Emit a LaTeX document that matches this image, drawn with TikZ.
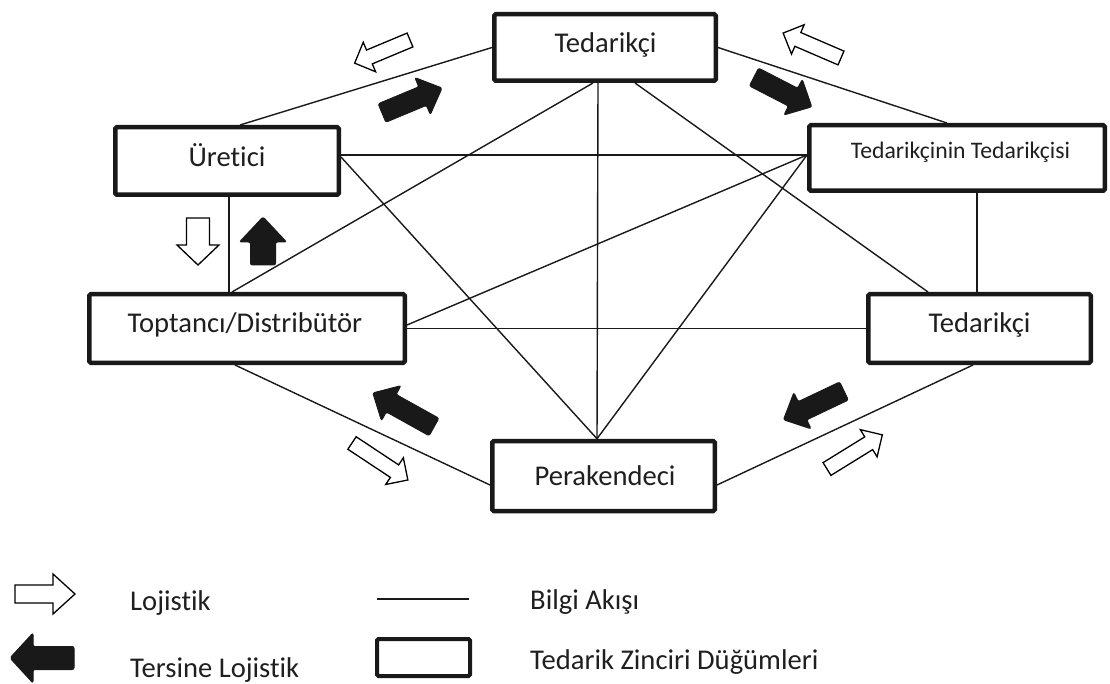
\documentclass[tikz,border=0pt]{standalone}
\usepackage{fontspec}
\setmainfont{Carlito}[Ligatures={NoCommon,NoRequired,NoContextual}]
\usetikzlibrary{calc}
\pgfdeclarelayer{bg}
\pgfsetlayers{bg,main}
\newcommand\blockarrow[7]{%
  \draw[#1,shift={#2},rotate=#3] (0,-#5) -- ({#4-#7},-#5) -- ({#4-#7},-#6) -- (#4,0) -- ({#4-#7},#6) -- ({#4-#7},#5) -- (0,#5) -- cycle;}
\begin{document}
\begin{tikzpicture}[x=1pt,y=-1pt,
  nodebox/.style={draw=black!90,line width=4.5pt,rounded corners=1.5pt,inner sep=0pt,fill=white},
  lbl/.style={font=\fontsize{28.6}{34}\selectfont,inner sep=0pt,anchor=base,text=black!88},
  lblsmall/.style={font=\fontsize{23.7}{28}\selectfont,inner sep=0pt,anchor=base,text=black!88},
  info/.style={draw=black!90,line width=1.4pt},
  warrow/.style={draw=black,fill=white,line width=1.3pt,line join=miter},
  barrow/.style={draw=black!90,fill=black!90,line width=1pt,rounded corners=2pt}]
\useasboundingbox (0,0) rectangle (1110,684);
% nodes (boxes)
\node[nodebox,minimum width=221.5pt,minimum height=66.5pt] (top) at (605,47.5) {};
\node[nodebox,minimum width=223.5pt,minimum height=67.5pt] (ur) at (227,161) {};
\node[nodebox,minimum width=295.5pt,minimum height=65.5pt] (tt) at (957,158) {};
\node[nodebox,minimum width=315.5pt,minimum height=68.5pt] (tp) at (247,328.5) {};
\node[nodebox,minimum width=222.5pt,minimum height=68.5pt] (rt) at (979.5,328.5) {};
\node[nodebox,minimum width=222.5pt,minimum height=70pt] (pk) at (603.5,476) {};
% information flow lines
\begin{pgfonlayer}{bg}
\draw[info] ($(ur.north)+(13,0)$) -- (top.west);
\draw[info] (top.east) -- ($(tt.north)+(-10,0)$);
\draw[info] ($(top.south)+(-7,0)$) -- ($(pk.north)+(-6.5,0)$);
\draw[info] ($(top.south)+(-12,0)$) -- ($(tp.north)+(-15,0)$);
\draw[info] ($(top.south)+(30,0)$) -- ($(rt.north)+(-51.5,0)$);
\draw[info] ($(ur.east)+(0,-6)$) -- ($(tt.west)+(0,-3)$);
\draw[info] ($(ur.east)+(0,-4)$) -- ($(pk.north)+(-6.5,0)$);
\draw[info] ($(ur.south)+(2,0)$) -- ($(tp.north)+(-18,0)$);
\draw[info] ($(tt.west)+(0,-3)$) -- ($(tp.east)+(0,-3.5)$);
\draw[info] ($(tt.west)+(0,-3)$) -- ($(pk.north)+(-6.5,0)$);
\draw[info] ($(rt.north)+(-2.5,0)$) -- ($(tt.south)+(20,0)$);
\draw[info] (tp.east) -- (rt.west);
\draw[info] ($(tp.south)+(-12,0)$) -- ($(pk.west)+(0,9)$);
\draw[info] ($(pk.east)+(0,9)$) -- ($(rt.south)+(-6.5,0)$);
\end{pgfonlayer}
% labels
\node[lbl] (topL) at (605.5,53) {Tedarikçi};
\node[lbl] (urL) at (227,167) {Üretici};
\node[lblsmall] (ttL) at (960.5,159) {Tedarikçinin Tedarikçisi};
\node[lbl] (tpL) at (245,333) {Toptancı/Distribütör};
\node[lbl] (rtL) at (979.5,333) {Tedarikçi};
\node[lbl] (pkL) at (605,485) {Perakendeci};
% flow arrows
\blockarrow{warrow}{(410,40)}{202.7}{60}{7.5}{16}{16}
\blockarrow{barrow}{(382,113)}{22.6}{65}{10}{20}{21}
\blockarrow{barrow}{(754,77)}{-27.3}{65}{10}{20}{21}
\blockarrow{warrow}{(841,58)}{156.7}{63}{7.5}{16}{16}
\blockarrow{warrow}{(198,218)}{-90}{47}{11.5}{21}{20}
\blockarrow{barrow}{(263,265)}{90}{48}{12.5}{23.5}{25}
\blockarrow{barrow}{(434,427)}{150.9}{70}{10}{20}{21}
\blockarrow{warrow}{(352,443)}{-33.5}{67}{7.5}{16}{16}
\blockarrow{barrow}{(844,391)}{205.4}{67}{10}{20}{21}
\blockarrow{warrow}{(827,469)}{31.7}{65}{7.5}{16}{16}
% legend
\blockarrow{warrow}{(15,594)}{0}{60}{9}{20}{22}
\blockarrow{barrow}{(74,658)}{180}{64}{11.5}{25}{23}
\node[lbl,anchor=base west] (lg1) at (130,610) {Lojistik};
\node[lbl,anchor=base west] (lg2) at (130,677) {Tersine Lojistik};
\coordinate (ls) at (377,599);
\coordinate (le) at (469,599);
\draw[info] (ls) -- (le);
\node[draw=black!90,line width=4pt,rounded corners=1.5pt,minimum width=93pt,minimum height=37pt,inner sep=0pt] (lgbox) at (423.5,657.5) {};
\node[lbl,anchor=base west] (lg3) at (530,609) {Bilgi Akışı};
\node[lbl,anchor=base west] (lg4) at (530,669) {Tedarik Zinciri Düğümleri};
\end{tikzpicture}
\end{document}
